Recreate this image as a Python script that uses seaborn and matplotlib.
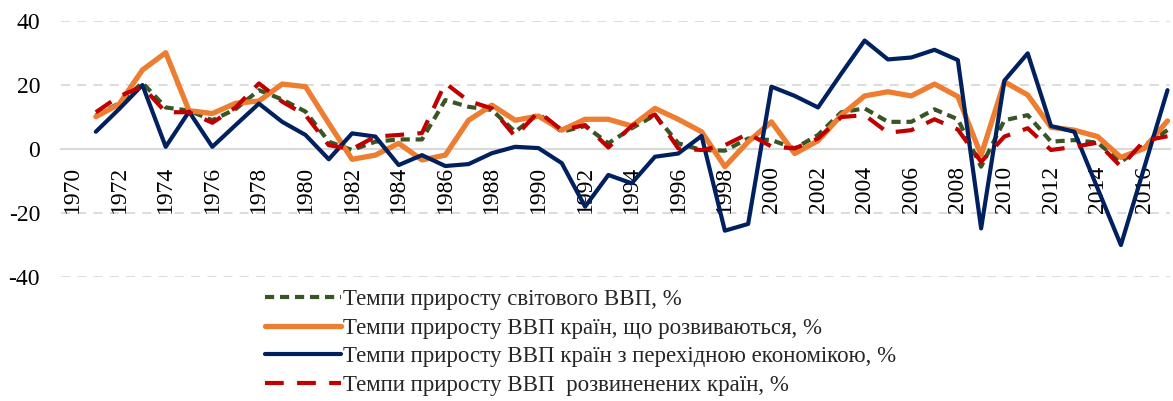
import matplotlib
matplotlib.use('Agg')
import matplotlib.pyplot as plt
import seaborn as sns
import pandas as pd

years = list(range(1971, 2018))

world = [10.5, 14.3, 20.7, 13, 12, 9, 12.5, 18.4, 15.5, 11.7,
         2.3, -0.3, 2.3, 3, 3, 15.3, 13.2, 12.2, 5.4, 11,
         5.4, 7.2, 1.8, 6.5, 10.6, 1.8, -0.3, -0.5, 3.3, 2.8,
         0.2, 4.4, 11.5, 12.7, 8.5, 8.5, 12.4, 9.3, -5.5, 9,
         10.6, 2.3, 2.8, 2, -4, 1.2, 5.9]
developing = [10.1, 14, 24.7, 30.1, 12, 11.1, 14.3, 15, 20.3, 19.5,
              8, -3.2, -1.9, 1.8, -3.4, -1.9, 9, 13.7, 9, 10.3,
              5.9, 9.3, 9.3, 7.2, 12.7, 9.3, 5.4, -5.5, 2.3, 8.5,
              -1.4, 2.6, 10.6, 16.6, 17.9, 16.6, 20.3, 16.4, -1.9, 21,
              16.9, 6.8, 5.9, 3.9, -2.6, 0.2, 8.8]
transition = [5.4, 12.5, 20, 0.7, 11.7, 0.7, 7.5, 14.2, 8.5, 4.4,
              -3.2, 4.9, 3.9, -5, -1.9, -5.3, -4.7, -1.3, 0.7, 0.3,
              -4.4, -18, -8.1, -10.7, -2.4, -1.4, 4.1, -25.5, -23.4, 19.5,
              16.6, 13, 23.6, 33.9, 28, 28.6, 31, 27.8, -24.8, 21.4,
              29.9, 7.2, 5.4, -12.3, -30, -5.8, 18.4]
developed = [11.5, 16.5, 19.5, 11.5, 11.5, 8.2, 13, 20.5, 14.8, 10.6,
             1.2, 0, 3.9, 4.4, 5, 20.6, 15, 12.7, 3.9, 11.7,
             5.9, 7.5, 0.5, 7.2, 10.8, 0.2, -0.3, 1.2, 4.8, 0.8,
             0.2, 3.3, 10, 10.6, 5.1, 5.9, 9.3, 6.1, -4, 3.9,
             6.5, -0.3, 0.7, 2, -5.5, 2.6, 4]

labels = ['Темпи приросту світового ВВП, %',
          'Темпи приросту ВВП країн, що розвиваються, %',
          'Темпи приросту ВВП країн з перехідною економікою, %',
          'Темпи приросту ВВП  розвиненених країн, %']
tick_years = list(range(1970, 2017, 2))

sns.set_theme(style='white')
plt.rcParams['font.family'] = ['Liberation Serif', 'DejaVu Serif']
plt.rcParams['axes.unicode_minus'] = False

fig = plt.figure(figsize=(11.73, 4.01), dpi=100)
ax = fig.add_axes([0.0519, 0.309, 0.9454, 0.6386])

# линии
series = [
    (world, labels[0], '#375623', 3, (0, (2.2, 1.4))),
    (developing, labels[1], '#ED7D31', 3.8, '-'),
    (transition, labels[2], '#002060', 3, '-'),
    (developed, labels[3], '#C00000', 3, (0, (4.5, 3.2))),
]
for vals, lab, col, lw, ls in series:
    df = pd.DataFrame({'year': years, 'val': vals})
    sns.lineplot(data=df, x='year', y='val', color=col, lw=lw,
                 linestyle=ls, label=lab, ax=ax)

ax.set_xlim(1969.5, 2017.1)
ax.set_ylim(-40, 40)
ax.set_yticks([-40, -20, 0, 20, 40])
ax.set_xticks(tick_years)
ax.set_xticklabels([str(y) for y in tick_years])
ax.set_xlabel('')
ax.set_ylabel('')

for v in [-40, -20, 20, 40]:
    ax.axhline(v, color='#D9D9D9', lw=1.3, ls=(0, (5, 4)), zorder=0)

for s in ['top', 'right', 'left']:
    ax.spines[s].set_visible(False)
ax.spines['bottom'].set_position(('data', 0))
ax.spines['bottom'].set_color('#D9D9D9')
ax.spines['bottom'].set_linewidth(1.5)
ax.spines['bottom'].set_zorder(0)
ax.tick_params(axis='both', length=0, labelsize=17, colors='black')
ax.tick_params(axis='x', pad=12, labelrotation=90)
ax.tick_params(axis='y', pad=15)

leg = ax.legend(loc='upper left', bbox_to_anchor=(0.226, 0.28),
                bbox_transform=fig.transFigure, frameon=False, fontsize=16.5,
                handlelength=3.3, handletextpad=0.1, labelspacing=0.34,
                borderpad=0, borderaxespad=0)

fig.savefig('out.png', dpi=100)
